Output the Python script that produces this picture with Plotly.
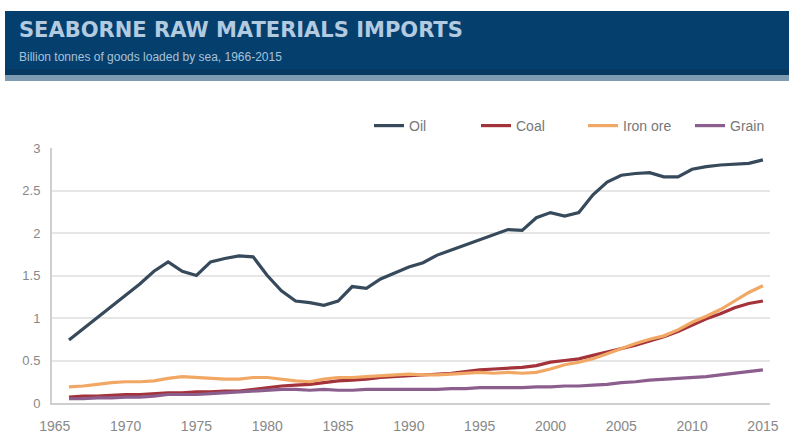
import plotly.graph_objects as go

# ---- data (billion tonnes) ----
years = list(range(1966, 2016))

oil = [0.74, 0.87, 1.00, 1.13, 1.27, 1.40, 1.55, 1.66, 1.55, 1.50,
       1.66, 1.70, 1.73, 1.72, 1.50, 1.32, 1.20, 1.18, 1.15, 1.20,
       1.37, 1.35, 1.46, 1.53, 1.60, 1.65, 1.74, 1.80, 1.86, 1.92,
       1.98, 2.04, 2.03, 2.18, 2.24, 2.20, 2.24, 2.45, 2.60, 2.68,
       2.70, 2.71, 2.66, 2.66, 2.75, 2.78, 2.80, 2.81, 2.82, 2.86]

coal = [0.07, 0.08, 0.08, 0.09, 0.10, 0.10, 0.11, 0.12, 0.12, 0.13,
        0.13, 0.14, 0.14, 0.16, 0.18, 0.20, 0.21, 0.22, 0.24, 0.26,
        0.27, 0.28, 0.30, 0.31, 0.32, 0.33, 0.34, 0.35, 0.37, 0.39,
        0.40, 0.41, 0.42, 0.44, 0.48, 0.50, 0.52, 0.56, 0.60, 0.64,
        0.68, 0.73, 0.78, 0.84, 0.92, 0.99, 1.05, 1.12, 1.17, 1.20]

iron_ore = [0.19, 0.20, 0.22, 0.24, 0.25, 0.25, 0.26, 0.29, 0.31, 0.30,
            0.29, 0.28, 0.28, 0.30, 0.30, 0.28, 0.26, 0.25, 0.28, 0.30,
            0.30, 0.31, 0.32, 0.33, 0.34, 0.33, 0.33, 0.34, 0.35, 0.36,
            0.35, 0.36, 0.35, 0.36, 0.40, 0.45, 0.48, 0.52, 0.58, 0.64,
            0.70, 0.75, 0.79, 0.86, 0.95, 1.02, 1.10, 1.20, 1.30, 1.38]

grain = [0.05, 0.05, 0.06, 0.06, 0.07, 0.07, 0.08, 0.10, 0.10, 0.10,
         0.11, 0.12, 0.13, 0.14, 0.15, 0.16, 0.16, 0.15, 0.16, 0.15,
         0.15, 0.16, 0.16, 0.16, 0.16, 0.16, 0.16, 0.17, 0.17, 0.18,
         0.18, 0.18, 0.18, 0.19, 0.19, 0.20, 0.20, 0.21, 0.22, 0.24,
         0.25, 0.27, 0.28, 0.29, 0.30, 0.31, 0.33, 0.35, 0.37, 0.39]

series_names = ["Oil", "Coal", "Iron ore", "Grain"]
series_values = [oil, coal, iron_ore, grain]
series_colors = ["#364a5c", "#a3323a", "#f2a865", "#8c5e8e"]

x_ticks = list(range(1965, 2016, 5))
y_ticks = [0, 0.5, 1, 1.5, 2, 2.5, 3]

title_text = "SEABORNE RAW MATERIALS IMPORTS"
subtitle_text = "Billion tonnes of goods loaded by sea, 1966-2015"

# ---- layout geometry ----
W, H = 789, 442
ML, MR, MT, MB = 52, 19, 148, 39
PW, PH = W - ML - MR, H - MT - MB


def px(x):
    return (x - ML) / PW


def py(y):
    return (H - MB - y) / PH


fig = go.Figure()
for name, vals, col in zip(series_names, series_values, series_colors):
    fig.add_trace(go.Scatter(
        x=years, y=vals, name=name, mode="lines",
        line=dict(color=col, width=3.2),
    ))

# header band
fig.add_shape(type="rect", xref="paper", yref="paper",
              x0=px(5), x1=px(W + 5), y0=py(69), y1=py(11),
              fillcolor="#053f6d", line_width=0, layer="above")
fig.add_shape(type="rect", xref="paper", yref="paper",
              x0=px(5), x1=px(W + 5), y0=py(75), y1=py(69),
              fillcolor="#073861", line_width=0, layer="above")
fig.add_shape(type="rect", xref="paper", yref="paper",
              x0=px(5), x1=px(W + 5), y0=py(81), y1=py(75),
              fillcolor="#7d9bb1", line_width=0, layer="above")

fig.add_annotation(text="<b>" + title_text + "</b>", xref="paper", yref="paper",
                   x=px(17), y=py(30), xanchor="left", yanchor="middle",
                   showarrow=False,
                   font=dict(family="DejaVu Sans", size=21, color="#b3cbe0"))
fig.add_annotation(text=subtitle_text, xref="paper", yref="paper",
                   x=px(17), y=py(57), xanchor="left", yanchor="middle",
                   showarrow=False,
                   font=dict(family="Liberation Sans", size=12, color="#a9c2d8"))

fig.update_layout(
    width=W, height=H,
    margin=dict(l=ML, r=MR, t=MT, b=MB, autoexpand=False),
    paper_bgcolor="white", plot_bgcolor="white",
    showlegend=True,
    legend=dict(orientation="h", x=px(369), y=py(126),
                xanchor="left", yanchor="middle",
                entrywidth=62, entrywidthmode="pixels",
                font=dict(family="Liberation Sans", size=14, color="#777777"),
                bgcolor="rgba(0,0,0,0)"),
    xaxis=dict(range=[1964.8, 2015.5], tickmode="array", tickvals=x_ticks,
               showgrid=False, zeroline=False,
               showline=True, linecolor="#cfcfcf", linewidth=2,
               ticks="", ticklabelstandoff=9,
               tickfont=dict(family="Liberation Sans", size=14, color="#888888")),
    yaxis=dict(range=[0, 3], tickmode="array", tickvals=y_ticks,
               ticktext=["0", "0.5", "1", "1.5", "2", "2.5", "3"],
               showgrid=True, gridcolor="#e6e6e6", gridwidth=1.5,
               zeroline=False, showline=True, linecolor="#cfcfcf", linewidth=2,
               ticks="", ticklabelstandoff=7,
               tickfont=dict(family="Liberation Sans", size=13, color="#888888")),
)

fig.write_html("out.html")
